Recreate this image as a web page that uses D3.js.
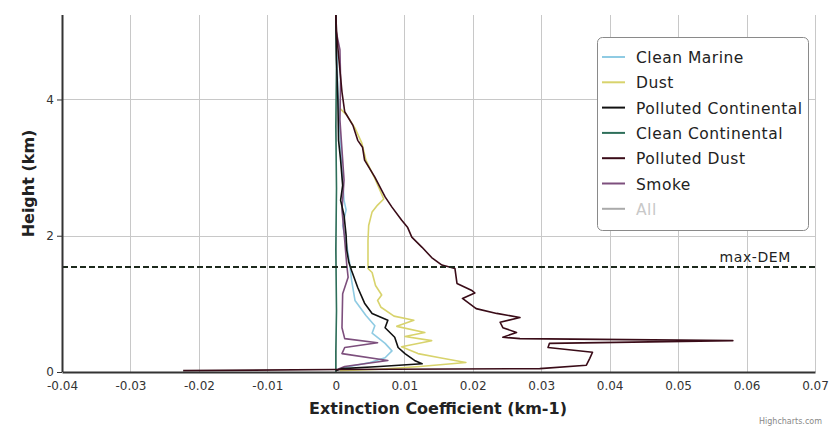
<!DOCTYPE html>
<html>
<head>
<meta charset="utf-8">
<script src="https://cdn.jsdelivr.net/npm/d3@7"></script>
<style>
  html, body { margin: 0; padding: 0; background: #fff; }
  svg { display: block; font-family: "DejaVu Sans", Verdana, sans-serif; }
</style>
</head>
<body>
<svg id="chart" width="833" height="427"></svg>
<script>
// Extinction profiles: [extinction (km-1), height (km)]
const seriesNames = ["Clean Marine", "Dust", "Polluted Continental", "Clean Continental", "Polluted Dust", "Smoke", "All"];
const seriesColors = ["#8fcbe3", "#d8d36c", "#111111", "#2e6f5a", "#3a0c18", "#7d4f7d", "#9a9a9a"];

const cleanMarine = [
  [0.0001, 4.88], [0.0003, 4.14], [0.0006, 3.55], [0.0009, 2.96], [0.0012, 2.52], [0.0015, 2.38],
  [0.0010, 2.15], [0.0016, 1.86], [0.0020, 1.61], [0.0023, 1.35], [0.0028, 1.05], [0.0044, 0.83],
  [0.0057, 0.68], [0.0053, 0.57], [0.0072, 0.42], [0.0082, 0.31], [0.0072, 0.21], [0.0050, 0.14],
  [0.0020, 0.08], [0.0003, 0.04]
];
const dust = [
  [0.0006, 3.87], [0.0016, 3.77], [0.0028, 3.58], [0.0038, 3.36], [0.0044, 3.11], [0.0057, 2.84],
  [0.0070, 2.54], [0.0061, 2.45], [0.0053, 2.35], [0.0048, 2.15], [0.0047, 1.93], [0.0047, 1.52],
  [0.0053, 1.46], [0.0058, 1.27], [0.0067, 1.13], [0.0061, 1.05], [0.0066, 0.95], [0.0085, 0.82],
  [0.0114, 0.76], [0.0089, 0.67], [0.0130, 0.58], [0.0101, 0.52], [0.0140, 0.46], [0.0096, 0.37],
  [0.0120, 0.27], [0.0152, 0.21], [0.0190, 0.14], [0.0123, 0.08], [0.0064, 0.04], [0.0006, 0.02]
];
const pollutedContinental = [
  [0.0000, 5.24], [0.0001, 4.58], [0.0003, 4.00], [0.0004, 3.40], [0.0007, 3.11], [0.0010, 2.74],
  [0.0007, 2.52], [0.0012, 2.30], [0.0015, 2.01], [0.0016, 1.79], [0.0019, 1.61], [0.0023, 1.49],
  [0.0032, 1.24], [0.0042, 1.01], [0.0053, 0.86], [0.0076, 0.76], [0.0072, 0.65], [0.0086, 0.51],
  [0.0091, 0.36], [0.0101, 0.27], [0.0115, 0.17], [0.0126, 0.12], [0.0064, 0.08], [0.0009, 0.05],
  [0.0000, 0.02]
];
const cleanContinental = [
  [0.0000, 5.24], [0.0001, 4.50], [0.0000, 3.60], [0.0001, 2.70], [0.0000, 1.80], [0.0001, 0.90],
  [0.0000, 0.30], [0.0000, 0.00]
];
const pollutedDust = [
  [0.0000, 5.24], [0.0001, 5.02], [0.0003, 4.76], [0.0006, 4.43], [0.0009, 4.11], [0.0013, 3.82],
  [0.0025, 3.62], [0.0032, 3.40], [0.0039, 3.30], [0.0042, 3.11], [0.0057, 2.86], [0.0072, 2.57],
  [0.0082, 2.42], [0.0096, 2.23], [0.0105, 2.12], [0.0111, 1.98], [0.0126, 1.83], [0.0140, 1.68],
  [0.0155, 1.57], [0.0174, 1.52], [0.0177, 1.30], [0.0198, 1.20], [0.0203, 1.16], [0.0185, 1.08],
  [0.0205, 0.93], [0.0235, 0.86], [0.0269, 0.80], [0.0240, 0.73], [0.0244, 0.65], [0.0264, 0.58],
  [0.0244, 0.51], [0.0269, 0.49], [0.0580, 0.46], [0.0312, 0.42], [0.0310, 0.36], [0.0375, 0.29],
  [0.0371, 0.20], [0.0366, 0.10], [0.0298, 0.05], [0.0000, 0.037], [-0.0223, 0.02]
];
const smoke = [
  [0.0000, 5.02], [0.0006, 4.73], [0.0007, 4.29], [0.0006, 3.70], [0.0009, 3.26], [0.0012, 2.82],
  [0.0009, 2.38], [0.0013, 1.93], [0.0016, 1.57], [0.0018, 1.39], [0.0010, 1.15], [0.0009, 0.65],
  [0.0013, 0.49], [0.0061, 0.43], [0.0013, 0.36], [0.0009, 0.27], [0.0076, 0.17], [0.0013, 0.08],
  [0.0003, 0.04]
];
const seriesData = [cleanMarine, dust, pollutedContinental, cleanContinental, pollutedDust, smoke, []];
const seriesVisible = [true, true, true, true, true, true, false];
// Draw order: lighter profiles first, the outer profile last
const drawOrder = [3, 0, 1, 5, 2, 4];

const xTicks = [-0.04, -0.03, -0.02, -0.01, 0, 0.01, 0.02, 0.03, 0.04, 0.05, 0.06, 0.07];
const xTickLabels = ["-0.04", "-0.03", "-0.02", "-0.01", "0", "0.01", "0.02", "0.03", "0.04", "0.05", "0.06", "0.07"];
const yTicks = [0, 2, 4];
const yTickLabels = ["0", "2", "4"];
const xDomain = [-0.04, 0.07];
const yDomain = [0, 5.24];
const maxDEM = 1.54;

const svg = d3.select("#chart");
const plot = { left: 62, right: 815, top: 15, bottom: 372 };

const x = d3.scaleLinear().domain(xDomain).range([plot.left, plot.right]);
const y = d3.scaleLinear().domain(yDomain).range([plot.bottom, plot.top]);

// Grid
svg.append("g").selectAll("line").data(xTicks.filter(d => d !== xDomain[0])).join("line")
  .attr("x1", d => Math.round(x(d)) + 0.5).attr("x2", d => Math.round(x(d)) + 0.5)
  .attr("y1", plot.top).attr("y2", plot.bottom)
  .attr("stroke", "#c8c8c8").attr("stroke-width", 1);
svg.append("g").selectAll("line").data(yTicks.filter(d => d !== 0)).join("line")
  .attr("x1", plot.left).attr("x2", plot.right)
  .attr("y1", d => Math.round(y(d)) + 0.5).attr("y2", d => Math.round(y(d)) + 0.5)
  .attr("stroke", "#c8c8c8").attr("stroke-width", 1);

// Profiles
const line = d3.line().x(d => x(d[0])).y(d => y(d[1]));
const linesG = svg.append("g");
drawOrder.forEach(i => {
  if (!seriesVisible[i]) return;
  linesG.append("path")
    .datum(seriesData[i])
    .attr("d", line)
    .attr("fill", "none")
    .attr("stroke", seriesColors[i])
    .attr("stroke-width", 1.6)
    .attr("stroke-linejoin", "round");
});

// max-DEM reference line
svg.append("line")
  .attr("x1", plot.left).attr("x2", plot.right)
  .attr("y1", y(maxDEM)).attr("y2", y(maxDEM))
  .attr("stroke", "#1d2a1d").attr("stroke-width", 2)
  .attr("stroke-dasharray", "6,3");
svg.append("text")
  .attr("x", 791).attr("y", y(maxDEM) - 5)
  .attr("text-anchor", "end")
  .attr("font-size", 14).attr("letter-spacing", 0.6).attr("fill", "#222")
  .text("max-DEM");

// Axes
const xAxis = d3.axisBottom(x).tickValues(xTicks).tickSize(0).tickPadding(9)
  .tickFormat((d, i) => xTickLabels[i]);
const xg = svg.append("g").attr("transform", `translate(0,${plot.bottom})`).call(xAxis);
xg.select(".domain").attr("stroke", "#333").attr("stroke-width", 2);
xg.selectAll("text").attr("font-size", 12).attr("fill", "#333")
  .attr("font-family", "DejaVu Sans, Verdana, sans-serif");

const yAxis = d3.axisLeft(y).tickValues(yTicks).tickSize(5).tickPadding(3)
  .tickFormat((d, i) => yTickLabels[i]);
const yg = svg.append("g").attr("transform", `translate(${plot.left},0)`).call(yAxis);
yg.select(".domain").attr("stroke", "#333").attr("stroke-width", 2).attr("d", `M0.5,${plot.top}V${plot.bottom}`);
yg.selectAll(".tick line").attr("stroke", "#333");
yg.selectAll("text").attr("font-size", 12).attr("fill", "#333")
  .attr("font-family", "DejaVu Sans, Verdana, sans-serif");

// Axis titles
svg.append("text")
  .attr("x", 438).attr("y", 414)
  .attr("text-anchor", "middle").attr("font-weight", "bold")
  .attr("font-size", 16).attr("fill", "#222")
  .text("Extinction Coefficient (km-1)");
svg.append("text")
  .attr("transform", `translate(34,${(plot.top + plot.bottom) / 2 - 10}) rotate(-90)`)
  .attr("text-anchor", "middle").attr("font-weight", "bold")
  .attr("font-size", 16).attr("fill", "#222")
  .text("Height (km)");

// Legend
const legend = svg.append("g").attr("transform", "translate(597,37)");
legend.append("rect")
  .attr("x", 0.5).attr("y", 0.5).attr("width", 211).attr("height", 193)
  .attr("rx", 5).attr("fill", "#fff").attr("stroke", "#8a8a8a");
seriesNames.forEach((name, i) => {
  const g = legend.append("g").attr("transform", `translate(0,${20 + i * 25.3})`);
  g.append("line").attr("x1", 5).attr("x2", 28).attr("y1", 0).attr("y2", 0)
    .attr("stroke", seriesVisible[i] ? seriesColors[i] : "#aaa").attr("stroke-width", 2);
  g.append("text").attr("x", 39).attr("y", 6)
    .attr("font-size", 15.5).attr("letter-spacing", 0.5)
    .attr("fill", seriesVisible[i] ? "#222" : "#c8c8c8")
    .text(name);
});

// Credit
svg.append("text")
  .attr("x", 822).attr("y", 424).attr("text-anchor", "end")
  .attr("font-size", 8).attr("fill", "#888")
  .text("Highcharts.com");
</script>
</body>
</html>
